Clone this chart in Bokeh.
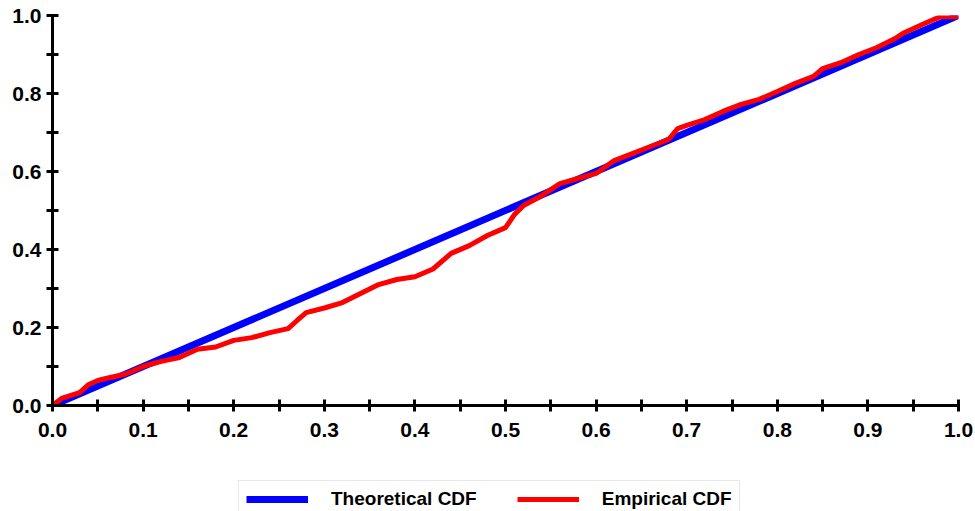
from bokeh.plotting import figure
from bokeh.models import Range1d, FixedTicker, Legend, LegendItem
from bokeh.layouts import column
from bokeh.embed import file_html
from bokeh.resources import INLINE

# Data
theo_x = [0.0, 1.0]
theo_y = [0.0, 1.0]

emp_x = [0.0, 0.01, 0.03, 0.04, 0.05, 0.06, 0.08, 0.10, 0.12, 0.14, 0.16, 0.18, 0.20,
         0.22, 0.24, 0.26, 0.27, 0.28, 0.30, 0.32, 0.34, 0.36, 0.38, 0.40, 0.42, 0.44,
         0.46, 0.48, 0.50, 0.51, 0.52, 0.54, 0.56, 0.58, 0.60, 0.62, 0.64, 0.66, 0.68,
         0.69, 0.70, 0.72, 0.74, 0.76, 0.78, 0.80, 0.82, 0.84, 0.85, 0.87, 0.89, 0.91,
         0.93, 0.94, 0.96, 0.97, 0.98, 1.0]
emp_y = [0.0, 0.018, 0.033, 0.054, 0.064, 0.070, 0.080, 0.100, 0.113, 0.123, 0.144, 0.150, 0.167,
         0.174, 0.187, 0.197, 0.218, 0.238, 0.250, 0.264, 0.287, 0.310, 0.323, 0.330, 0.350, 0.390,
         0.410, 0.436, 0.456, 0.490, 0.513, 0.538, 0.569, 0.582, 0.595, 0.628, 0.646, 0.664, 0.682,
         0.710, 0.718, 0.733, 0.754, 0.772, 0.785, 0.805, 0.826, 0.844, 0.864, 0.879, 0.900, 0.918,
         0.941, 0.956, 0.977, 0.987, 0.997, 0.997]

x_major = [0.0, 0.1, 0.2, 0.3, 0.4, 0.5, 0.6, 0.7, 0.8, 0.9, 1.0]
x_minor = [0.05, 0.15, 0.25, 0.35, 0.45, 0.55, 0.65, 0.75, 0.85, 0.95]
y_major = [0.0, 0.2, 0.4, 0.6, 0.8, 1.0]
y_minor = [0.1, 0.3, 0.5, 0.7, 0.9]
series_names = ["Theoretical CDF", "Empirical CDF"]
series_colors = ["#0000ff", "#ff0000"]
series_widths = [7, 5]

LABEL_FONT = "Liberation Sans"

p = figure(width=975, height=450, output_backend="svg", toolbar_location=None,
           x_range=Range1d(0, 1), y_range=Range1d(0, 1),
           min_border_left=52, min_border_right=17, min_border_top=15, min_border_bottom=45)
p.outline_line_color = None
p.xgrid.visible = False
p.ygrid.visible = False
p.background_fill_color = "white"
p.border_fill_color = "white"

p.line(theo_x, theo_y, line_color=series_colors[0], line_width=series_widths[0])
p.line(emp_x, emp_y, line_color=series_colors[1], line_width=series_widths[1])

for ax, maj, mnr in ((p.xaxis[0], x_major, x_minor), (p.yaxis[0], y_major, y_minor)):
    ax.ticker = FixedTicker(ticks=maj, minor_ticks=mnr)
    ax.axis_line_width = 3
    ax.axis_line_color = "black"
    ax.major_tick_line_width = 3
    ax.minor_tick_line_width = 3
    ax.major_tick_in = 6
    ax.major_tick_out = 6
    ax.minor_tick_in = 6
    ax.minor_tick_out = 6
    ax.major_tick_line_color = "black"
    ax.minor_tick_line_color = "black"
    ax.major_label_text_font = LABEL_FONT
    ax.major_label_text_font_style = "bold"
    ax.major_label_text_font_size = "21px"
    ax.major_label_text_color = "black"

p.xaxis[0].major_label_standoff = 11
p.yaxis[0].major_label_standoff = 5
p.xaxis[0].major_label_overrides = {v: f"{v:.1f}" for v in x_major}
p.yaxis[0].major_label_overrides = {v: f"{v:.1f}" for v in y_major}

# Legend strip below the chart (its lines sit outside its visible range)
lg = figure(width=975, height=70, output_backend="svg", toolbar_location=None,
            x_range=Range1d(0, 1), y_range=Range1d(5, 6),
            x_axis_type=None, y_axis_type=None,
            min_border_left=0, min_border_right=0, min_border_top=0, min_border_bottom=0)
lg.outline_line_color = None
lg.xgrid.visible = False
lg.ygrid.visible = False
items = []
for name, col, w, xs, ys in zip(series_names, series_colors, series_widths,
                                 (theo_x, emp_x), (theo_y, emp_y)):
    r = lg.line(xs, ys, line_color=col, line_width=w)
    items.append(LegendItem(label=name, renderers=[r]))

legend = Legend(items=items, orientation="horizontal", location=(186, 2))
legend.label_text_font = LABEL_FONT
legend.label_text_font_style = "bold"
legend.label_text_font_size = "19px"
legend.label_text_color = "black"
legend.glyph_width = 62
legend.glyph_height = 20
legend.label_standoff = 23
legend.spacing = 40
legend.padding = 7
legend.margin = 0
legend.border_line_color = "#cfcfcf"
legend.border_line_width = 1
legend.background_fill_alpha = 1
lg.add_layout(legend, "center")

layout = column(p, lg, spacing=0)
open("out.html", "w").write(file_html(layout, INLINE))
